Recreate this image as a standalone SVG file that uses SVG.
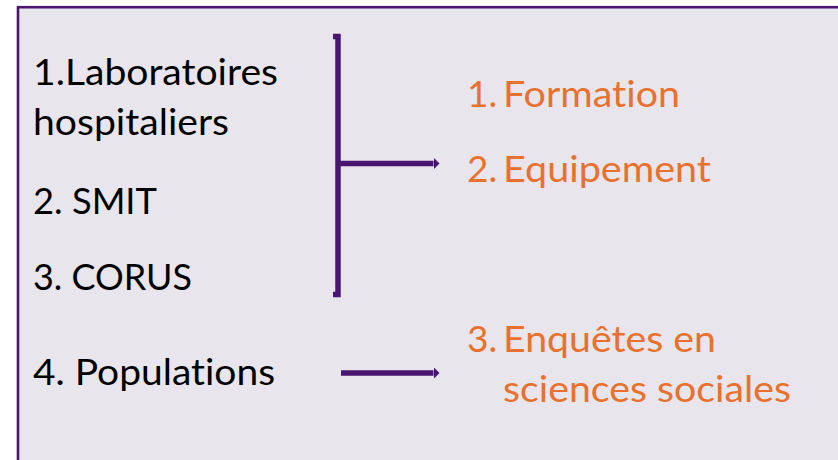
<svg xmlns="http://www.w3.org/2000/svg" width="838" height="460" viewBox="0 0 838 460">
<style>
.src{font-family:Lato,"Open Sans","Noto Sans",sans-serif;font-size:37px;fill:#000;font-variant-ligatures:none}
.dst{font-family:Lato,"Open Sans","Noto Sans",sans-serif;font-size:37px;fill:#E8712F;font-variant-ligatures:none}
.conn{stroke:#4A1570;stroke-width:5.5;fill:none}
</style>
<defs>
<marker id="ah" viewBox="0 0 6 12" refX="0" refY="6" markerWidth="6" markerHeight="12" markerUnits="userSpaceOnUse" orient="auto">
<path d="M0,0 L6,6 L0,12 Z" fill="#4A1570"/>
</marker>
</defs>
<rect x="0" y="0" width="838" height="460" fill="#ffffff"/>
<rect id="frame" x="18" y="7.2" width="830" height="470" fill="#E8E6EC" stroke="#4A1570" stroke-width="2.6"/>
<g id="src1"><text class="src" x="33" y="85" textLength="245" lengthAdjust="spacingAndGlyphs">1.Laboratoires</text><text class="src" x="33" y="135" textLength="196" lengthAdjust="spacingAndGlyphs">hospitaliers</text></g>
<g id="src2"><text class="src" x="33" y="214" textLength="124" lengthAdjust="spacingAndGlyphs">2. SMIT</text></g>
<g id="src3"><text class="src" x="33" y="290" textLength="159" lengthAdjust="spacingAndGlyphs">3. CORUS</text></g>
<g id="src4"><text class="src" x="33" y="385" textLength="242" lengthAdjust="spacingAndGlyphs">4. Populations</text></g>
<g id="dst1"><text class="dst" x="467" y="107">1.</text><text class="dst" x="503" y="107" textLength="177" lengthAdjust="spacingAndGlyphs">Formation</text></g>
<g id="dst2"><text class="dst" x="467" y="182">2.</text><text class="dst" x="503" y="182" textLength="208" lengthAdjust="spacingAndGlyphs">Equipement</text></g>
<g id="dst3"><text class="dst" x="467" y="352">3.</text><text class="dst" x="503" y="352" textLength="213" lengthAdjust="spacingAndGlyphs">Enquêtes en</text><text class="dst" x="503" y="402" textLength="288" lengthAdjust="spacingAndGlyphs">sciences sociales</text></g>
<g id="connectors">
<path class="conn" d="M333,36.5 H338 V294.5 H333"/>
<line class="conn" x1="338" y1="163.5" x2="433.5" y2="163.5" marker-end="url(#ah)"/>
<line class="conn" x1="341" y1="373" x2="433.5" y2="373" marker-end="url(#ah)"/>
</g>
</svg>
